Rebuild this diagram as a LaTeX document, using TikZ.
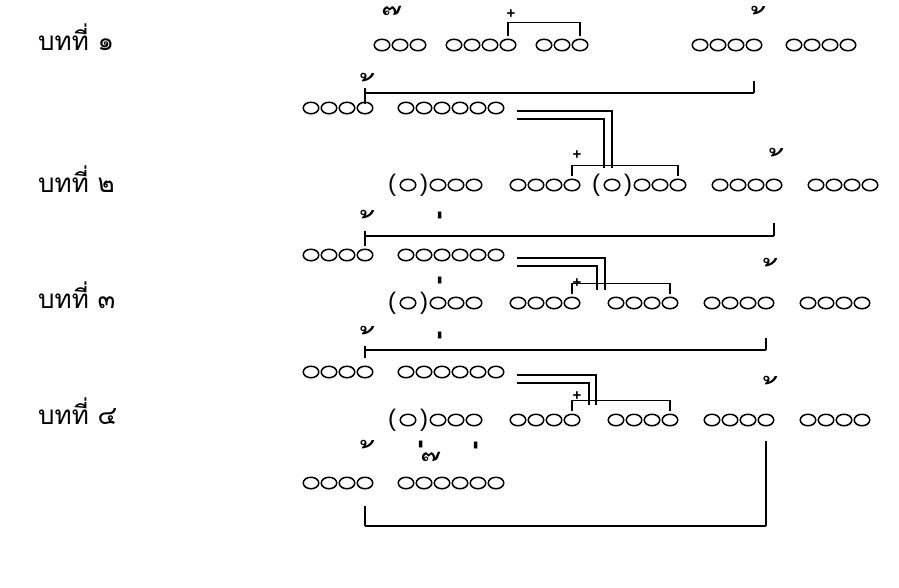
\documentclass[tikz,border=0pt]{standalone}
\usepackage{fontspec}
\newfontfamily\thaifont[Script=Thai]{Loma}
\setsansfont{Liberation Sans}
\usetikzlibrary{shapes.geometric}
\newcommand\grp[4]{%
  \foreach \k in {1,...,#4} {\node[syl] (#1-\k) at ({#2+(\k-1)*18}, #3) {};}}
\newcommand\tm[1]{\char"00A0 #1}
\begin{document}
\begin{tikzpicture}[x=1pt,y=-1pt,
  syl/.style={ellipse, draw, line width=1.5pt, minimum width=15.5pt, minimum height=11.5pt, inner sep=0pt},
  lbl/.style={anchor=base west, inner sep=0pt, font=\thaifont\fontsize{26}{30}\selectfont},
  tone/.style={anchor=north, inner sep=0pt, font=\thaifont\fontsize{38}{38}\selectfont},
  ek/.style={anchor=north, inner sep=0pt, font=\thaifont\fontsize{50}{50}\selectfont},
  plus/.style={inner sep=0pt, font=\sffamily\bfseries\fontsize{15}{15}\selectfont},
  par/.style={inner sep=0pt, font=\sffamily\fontsize{24}{24}\selectfont},
  ln/.style={line width=1.7pt}]
\path[use as bounding box] (0,0) rectangle (899,587);
% labels
\node[lbl] (lab1) at (38,50) {บทที่ ๑};
\node[lbl] (lab2) at (38,192) {บทที่ ๒};
\node[lbl] (lab3) at (38,308) {บทที่ ๓};
\node[lbl] (lab4) at (38,424) {บทที่ ๔};
% ---------- stanza 1
\grp{r1a}{382}{45}{3}\grp{r1b}{454}{45}{4}\grp{r1c}{544}{45}{3}
\grp{r1d}{700}{45}{4}\grp{r1e}{794}{45}{4}
\node[tone] (t1) at ([xshift=-6pt]r1a-2 |- 0,6) {\tm{๊}};
\node[plus] (p1) at ([xshift=3pt]r1b-4 |- 0,14) {+};
\node[tone] (t2) at ([xshift=5pt]r1d-4 |- 0,6) {\tm{้}};
\draw[ln] ([yshift=3pt]r1b-4.north) -- ++(0,-13) -| ([yshift=3pt]r1c-3.north);
\grp{l1f}{311}{108}{4}\grp{l1g}{406}{108}{6}
\coordinate (h1) at (0,93);
\node[tone] (t3) at ([xshift=3pt]l1f-4 |- 0,73) {\tm{้}};
\draw[ln] (l1f-4 |- h1) -- (r1d-4 |- h1);
\draw[ln] (l1f-4 |- h1) ++(0,-5) -- ++(0,16);
\draw[ln] (r1d-4 |- h1) -- ++(0,-12);
% ---------- stanza 2 row
\node[par] (r2o1) at (392,185) {(};
\node[syl] (r2p1) at (408,185) {};
\node[par] (r2c1) at (424,185) {)};
\grp{r2a}{438}{185}{3}\grp{r2b}{518}{185}{4}
\node[par] (r2o2) at (596,185) {(};
\node[syl] (r2p2) at (612,185) {};
\node[par] (r2c2) at (628,185) {)};
\grp{r2c}{642}{185}{3}\grp{r2d}{720}{185}{4}\grp{r2e}{816}{185}{4}
\node[plus] (p2) at ([xshift=5pt]r2b-4 |- 0,155) {+};
\node[tone] (t4) at ([xshift=3pt]r2d-4 |- 0,148) {\tm{้}};
\draw[ln] ([yshift=3pt]r2b-4.north) -- ++(0,-10) -| ([yshift=3pt]r2c-3.north);
% double line from stanza 1 second line
\coordinate (d1o) at (612,168);
\coordinate (d1i) at (604,168);
\draw[ln] (l1g-6.east) ++(12,3) -| (d1o);
\draw[ln] (l1g-6.east) ++(12,11) -| (d1i);
% ---------- stanza 2 second line
\grp{l2f}{311}{255}{4}\grp{l2g}{406}{255}{6}
\coordinate (h2) at (0,236);
\node[tone] (t5) at ([xshift=3pt]l2f-4 |- 0,210) {\tm{้}};
\node[ek] (t6) at ([xshift=-2pt]l2g-3 |- 0,212) {\tm{่}};
\draw[ln] (l2f-4 |- h2) -- (r2d-4 |- h2);
\draw[ln] (l2f-4 |- h2) ++(0,-5) -- ++(0,15);
\draw[ln] (r2d-4 |- h2) -- ++(0,-13);
% ---------- stanza 3 row
\node[par] (r3o1) at (392,303) {(};
\node[syl] (r3p1) at (408,303) {};
\node[par] (r3c1) at (424,303) {)};
\grp{r3a}{438}{303}{3}\grp{r3b}{518}{303}{4}\grp{r3c}{616}{303}{4}
\grp{r3d}{712}{303}{4}\grp{r3e}{808}{303}{4}
\node[ek] (t7) at ([xshift=2pt]r3a-1 |- 0,277) {\tm{่}};
\node[plus] (p3) at ([xshift=5pt]r3b-4 |- 0,283) {+};
\node[tone] (t8) at ([xshift=5pt]r3d-4 |- 0,258) {\tm{้}};
\draw[ln] ([yshift=3pt]r3b-4.north) -- ++(0,-10) -| ([yshift=3pt]r3c-4.north);
\coordinate (d2o) at (605,290);
\coordinate (d2i) at (597,290);
\draw[ln] (l2g-6.east) ++(12,3) -| (d2o);
\draw[ln] (l2g-6.east) ++(12,11) -| (d2i);
% ---------- stanza 3 second line
\grp{l3f}{311}{372}{4}\grp{l3g}{406}{372}{6}
\coordinate (h3) at (0,350);
\node[tone] (t9) at ([xshift=3pt]l3f-4 |- 0,326) {\tm{้}};
\node[ek] (t10) at ([xshift=-2pt]l3g-3 |- 0,332) {\tm{่}};
\draw[ln] (l3f-4 |- h3) -- (r3d-4 |- h3);
\draw[ln] (l3f-4 |- h3) ++(0,-4) -- ++(0,12);
\draw[ln] (r3d-4 |- h3) -- ++(0,-12);
% ---------- stanza 4 row
\node[par] (r4o1) at (392,420) {(};
\node[syl] (r4p1) at (408,420) {};
\node[par] (r4c1) at (424,420) {)};
\grp{r4a}{438}{420}{3}\grp{r4b}{518}{420}{4}\grp{r4c}{616}{420}{4}
\grp{r4d}{712}{420}{4}\grp{r4e}{808}{420}{4}
\node[plus] (p4) at ([xshift=5pt]r4b-4 |- 0,396) {+};
\node[tone] (t11) at ([xshift=5pt]r4d-4 |- 0,376) {\tm{้}};
\draw[ln] ([yshift=3pt]r4b-4.north) -- ++(0,-10) -| ([yshift=3pt]r4c-4.north);
\coordinate (d3o) at (596,405);
\coordinate (d3i) at (589,405);
\draw[ln] (l3g-6.east) ++(12,3) -| (d3o);
\draw[ln] (l3g-6.east) ++(12,11) -| (d3i);
% ---------- stanza 4 second line
\grp{l4f}{311}{483}{4}\grp{l4g}{406}{483}{6}
\coordinate (h4) at (0,526);
\node[tone] (t12) at ([xshift=3pt]l4f-4 |- 0,440) {\tm{้}};
\node[tone] (t13) at ([xshift=2pt]l4g-2 |- 0,441) {{\fontsize{50}{50}\selectfont\tm{่}}\tm{๊}};
\node[ek] (t15) at ([xshift=-2pt]l4g-5 |- 0,442) {\tm{่}};
\draw[ln] (l4f-4 |- h4) -- (r4d-4 |- h4);
\draw[ln] (l4f-4 |- h4) -- ++(0,-20);
\draw[ln] (r4d-4 |- h4) -- ([yshift=-14pt]r4d-4.south);
\end{tikzpicture}
\end{document}
